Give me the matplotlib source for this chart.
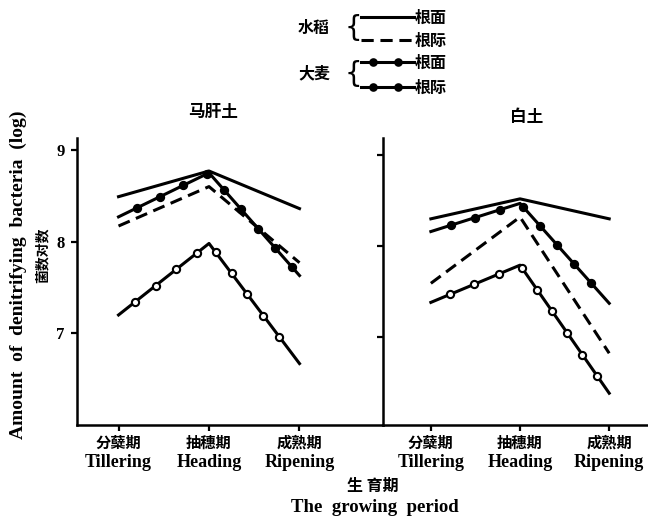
import numpy as np
import matplotlib
matplotlib.use("Agg")
import matplotlib.pyplot as plt
import matplotlib.colors as mcolors
import matplotlib.transforms as mtransforms
from matplotlib.patheffects import AbstractPathEffect
from matplotlib.path import Path
from matplotlib.markers import MarkerStyle
from matplotlib.transforms import Affine2D, IdentityTransform

# ---------------- data ----------------
stages_cn = ["分蘖期", "抽穗期", "成熟期"]
stages_en = ["Tillering", "Heading", "Ripening"]
stage_pos = [0, 1, 2]

soil_titles = ["马肝土", "白土"]

# 马肝土
mg_rice_surface = [8.49, 8.77, 8.36]
mg_rice_rhizo = [8.17, 8.60, 7.77]
mg_barley_surface = [8.27, 8.75, 7.63]
mg_barley_rhizo = [7.20, 7.98, 6.67]

# 白土
bt_rice_surface = [8.30, 8.52, 8.30]
bt_rice_rhizo = [7.59, 8.32, 6.82]
bt_barley_surface = [8.16, 8.47, 7.37]
bt_barley_rhizo = [7.38, 7.79, 6.38]

yticks = [7, 8, 9]


# ------------- beaded line style (markers spaced evenly along a line) -------------
class Beads(AbstractPathEffect):
    def __init__(self, spacing=20, offset=18, size=5.5, face="k", edge="k", mew=1.2):
        super().__init__()
        self.spacing, self.offset, self.size = spacing, offset, size
        self.face, self.edge, self.mew = face, edge, mew

    def draw_path(self, renderer, gc, tpath, affine, rgbFace=None):
        renderer.draw_path(gc, tpath, affine, rgbFace)
        pts = affine.transform(tpath.vertices)
        seg = np.hypot(*np.diff(pts, axis=0).T)
        cum = np.concatenate([[0], np.cumsum(seg)])
        p2p = renderer.points_to_pixels
        d = np.arange(p2p(self.offset), cum[-1] - p2p(self.spacing) * 0.35, p2p(self.spacing))
        if len(d) == 0:
            return
        xs = np.interp(d, cum, pts[:, 0])
        ys = np.interp(d, cum, pts[:, 1])
        m = MarkerStyle("o")
        mtrans = m.get_transform() + Affine2D().scale(p2p(self.size))
        gc0 = renderer.new_gc()
        gc0.copy_properties(gc)
        gc0.set_dashes(0, None)
        gc0.set_linewidth(self.mew)
        gc0.set_foreground(self.edge)
        renderer.draw_markers(gc0, m.get_path(), mtrans,
                              Path(np.column_stack([xs, ys])),
                              IdentityTransform(), mcolors.to_rgba(self.face))
        gc0.restore()


W, H = 648, 520
fig = plt.figure(figsize=(W / 100, H / 100), dpi=100)
fig.patch.set_facecolor("white")

CJK = ["Noto Sans CJK SC", "DejaVu Sans"]


def fx(px):
    return px / W


def fy(py):
    return 1 - py / H


ax_top, ax_bot = 138, 425
ax_h = ax_bot - ax_top
lw = 2.2


def setup(ax, xlim, ylim, show_ylabels):
    ax.set_xlim(*xlim)
    ax.set_ylim(*ylim)
    for s in ["top", "right"]:
        ax.spines[s].set_visible(False)
    for s in ["left", "bottom"]:
        ax.spines[s].set_linewidth(1.8)
    ax.set_xticks(stage_pos)
    ax.set_xticklabels(stages_en, family=["Liberation Serif"], fontsize=13, fontweight="bold")
    trans = mtransforms.blended_transform_factory(ax.transData, ax.transAxes)
    for p, c in zip(stage_pos, stages_cn):
        ax.text(p, -(443 - ax_bot) / ax_h, c, transform=trans, family=CJK, fontsize=11,
                fontweight="bold", ha="center", va="center")
    ax.set_yticks(yticks)
    if show_ylabels:
        ax.set_yticklabels([str(t) for t in yticks], family=["Liberation Serif"],
                           fontsize=12, fontweight="bold")
    else:
        ax.set_yticklabels([])
    ax.tick_params(axis="both", direction="out", length=4, width=1.6, pad=5)
    ax.tick_params(axis="x", pad=17)


def draw_series(ax, rs, rr, bs, br):
    ax.plot(stage_pos, rs, color="k", lw=lw, zorder=3)
    ax.plot(stage_pos, rr, color="k", lw=lw, ls=(0, (4.0, 2.2)), zorder=3)
    ax.plot(stage_pos, bs, color="k", lw=lw, zorder=4,
            path_effects=[Beads(spacing=18.5, offset=15, size=5.5, face="k")])
    ax.plot(stage_pos, br, color="k", lw=lw, zorder=4,
            path_effects=[Beads(spacing=19, offset=15, size=5.2, face="white", mew=1.5)])


axL = fig.add_axes([fx(77), fy(ax_bot), fx(383 - 77), ax_h / H])
setup(axL, (-0.459, 2.923), (6.0, 9.13), True)
draw_series(axL, mg_rice_surface, mg_rice_rhizo, mg_barley_surface, mg_barley_rhizo)

axR = fig.add_axes([fx(383), fy(ax_bot), fx(647 - 383), ax_h / H])
setup(axR, (-0.537, 2.424), (6.03, 9.19), False)
draw_series(axR, bt_rice_surface, bt_rice_rhizo, bt_barley_surface, bt_barley_rhizo)

# titles
fig.text(fx(213), fy(112), soil_titles[0], family=CJK, fontsize=12, fontweight="bold",
         ha="center", va="center")
fig.text(fx(527), fy(117), soil_titles[1], family=CJK, fontsize=12, fontweight="bold",
         ha="center", va="center")

# y labels
fig.text(fx(18), fy(275), "Amount  of  denitrifying  bacteria  (log)", family=["Liberation Serif"],
         fontsize=14, fontweight="bold", rotation=90, ha="center", va="center")
fig.text(fx(43), fy(255), "菌数对数", family=CJK, fontsize=10, fontweight="bold",
         rotation=90, ha="center", va="center")

# x label
fig.text(fx(373), fy(486), "生 育期", family=CJK, fontsize=11.5, fontweight="bold",
         ha="center", va="center")
fig.text(fx(375), fy(508), "The  growing  period", family=["Liberation Serif"], fontsize=13.5,
         fontweight="bold", ha="center", va="center")

# legend (drawn in a pixel-space overlay)
lax = fig.add_axes([0, 0, 1, 1], zorder=10)
lax.set_xlim(0, W)
lax.set_ylim(H, 0)
lax.axis("off")
lax.patch.set_alpha(0)

lax.text(314, 28, "水稻", family=CJK, fontsize=11.5, fontweight="bold", ha="center", va="center")
lax.text(314, 73, "大麦", family=CJK, fontsize=11.5, fontweight="bold", ha="center", va="center")
lax.text(353, 28, "{", family=["DejaVu Sans"], fontsize=20, ha="center", va="center")
lax.text(353, 74, "{", family=["DejaVu Sans"], fontsize=20, ha="center", va="center")

lax.plot([361, 414], [17, 17], color="k", lw=lw)
lax.plot([361, 414], [40, 40], color="k", lw=lw, ls=(0, (4.0, 2.2)))
lax.plot([361, 414], [62, 62], color="k", lw=lw,
         path_effects=[Beads(spacing=18, offset=8.5, size=5.0, face="k")])
lax.plot([361, 414], [87, 87], color="k", lw=lw,
         path_effects=[Beads(spacing=18, offset=8.5, size=5.0, face="k")])

for y, t in [(17, "根面"), (40, "根际"), (62, "根面"), (87, "根际")]:
    lax.text(415, y + 1, t, family=CJK, fontsize=11.5, fontweight="bold", ha="left", va="center")

fig.savefig("out.png", dpi=100, facecolor="white")
